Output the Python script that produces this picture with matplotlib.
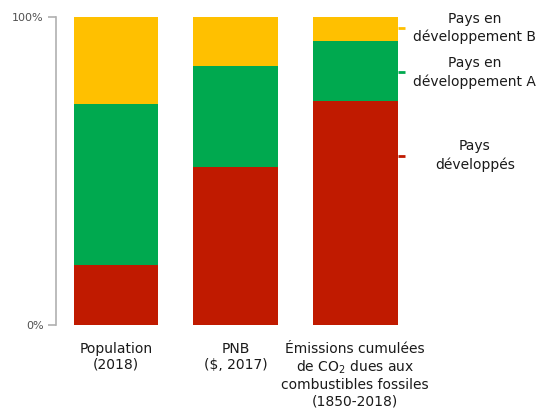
import matplotlib
matplotlib.use("Agg")
import matplotlib.pyplot as plt

categories = ["Population\n(2018)", "PNB\n($, 2017)",
              "Émissions cumulées\nde CO$_2$ dues aux\ncombustibles fossiles\n(1850-2018)"]
developpes = [19.5, 51.3, 72.7]
dev_a = [52.3, 32.8, 19.5]
dev_b = [28.2, 15.9, 7.8]
series_labels = ["Pays\ndéveloppés", "Pays en\ndéveloppement A", "Pays en\ndéveloppement B"]
label_pos = [55, 82, 96.5]   # y-position (%) of right-side labels

colors = ["#C01A00", "#00A94F", "#FFC000"]

plt.rcParams['font.family'] = ['DejaVu Sans']
fig = plt.figure(figsize=(5.6, 4.13), dpi=100)
W, H = 560, 413
ax = fig.add_axes([56 / W, (H - 325) / H, (415 - 56) / W, 308 / H])

x = list(range(len(categories)))
bottom = [0] * len(x)
for vals, c in zip([developpes, dev_a, dev_b], colors):
    ax.bar(x, vals, width=0.71, bottom=bottom, color=c, edgecolor='none')
    bottom = [b + v for b, v in zip(bottom, vals)]

ax.set_xlim(-0.502, 2.5)
ax.set_ylim(0, 100)
for s in ['top', 'right', 'bottom']:
    ax.spines[s].set_visible(False)
ax.spines['left'].set_color('#B0B0B0')
ax.spines['left'].set_linewidth(1.2)
ax.set_yticks([0, 100])
ax.set_yticklabels(["0%", "100%"], fontsize=8, color='#505050')
ax.tick_params(axis='y', length=6, width=1.2, color='#B0B0B0', pad=3)
ax.set_xticks(x)
ax.set_xticklabels(categories, fontsize=10, color='#1a1a1a', linespacing=1.2)
ax.tick_params(axis='x', length=0, pad=12)

# right side markers and labels
for lab, yp, c in zip(series_labels, label_pos, colors):
    ax.plot([2.355, 2.42], [yp, yp], color=c, lw=2, clip_on=False,
            solid_capstyle='butt')
    ax.text(3.0, yp, lab, ha='center', va='center', fontsize=10,
            color='#1a1a1a', transform=ax.transData, clip_on=False,
            linespacing=1.35)

fig.savefig("out.png", dpi=100)
